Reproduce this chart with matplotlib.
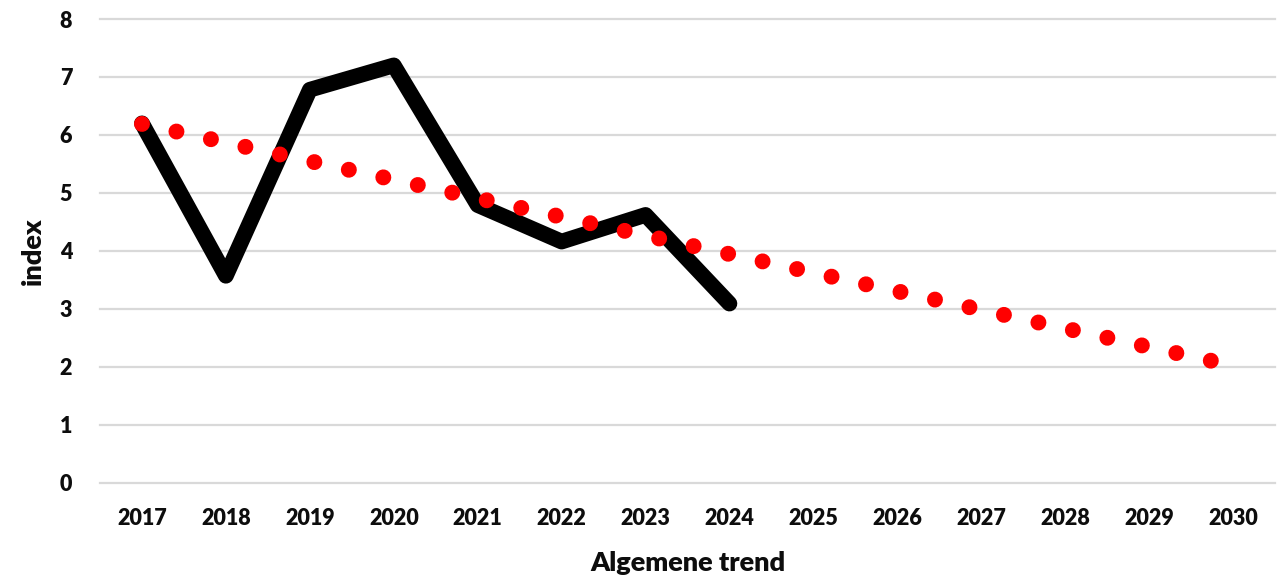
import matplotlib
matplotlib.use("Agg")
import matplotlib.pyplot as plt

years = ["2017", "2018", "2019", "2020", "2021", "2022", "2023", "2024",
         "2025", "2026", "2027", "2028", "2029", "2030"]
index_values = [6.2, 3.57, 6.78, 7.2, 4.79, 4.16, 4.62, 3.09]
trend_years = ["2017", "2030"]
trend_values = [6.19, 2.02]
y_ticks = [0, 1, 2, 3, 4, 5, 6, 7, 8]

plt.rcParams['font.family'] = ['Lato', 'DejaVu Sans']

W, H = 1279, 580
fig = plt.figure(figsize=(W / 100, H / 100), dpi=100)
ax = fig.add_axes([100 / W, 1 - 482.7 / H, 1175 / W, (482.7 - 19) / H])

xpos = {y: i for i, y in enumerate(years)}

ax.set_xlim(-0.5, len(years) - 0.5)
ax.set_ylim(0, 8)
ax.set_yticks(y_ticks)
ax.set_xticks(range(len(years)))
ax.set_xticklabels(years)

for yv in y_ticks:
    ax.axhline(yv, color='#d9d9d9', lw=1.6, zorder=0, clip_on=False)

ax.plot([xpos[y] for y in years[:len(index_values)]], index_values,
        color='black', lw=11.3, solid_capstyle='round',
        solid_joinstyle='round', zorder=2, clip_on=False)

ax.plot([xpos[y] for y in trend_years], trend_values,
        color='#ff0000', lw=11.5, linestyle=(0, (0.001, 2.21)),
        dash_capstyle='round', zorder=3, clip_on=False)

for s in ax.spines.values():
    s.set_visible(False)
ax.tick_params(axis='both', length=0, labelsize=15.5)
ax.tick_params(axis='x', pad=18)
ax.tick_params(axis='y', pad=20)
for lab in ax.get_xticklabels() + ax.get_yticklabels():
    lab.set_fontweight('heavy')
    lab.set_color('#0d0d0d')

ax.set_xlabel('Algemene trend', fontsize=19.5, fontweight='heavy', labelpad=16,
              color='#0d0d0d')
ax.set_ylabel('index', fontsize=19.5, fontweight='heavy', labelpad=11,
              color='#0d0d0d')

fig.savefig('out.png', dpi=100)
